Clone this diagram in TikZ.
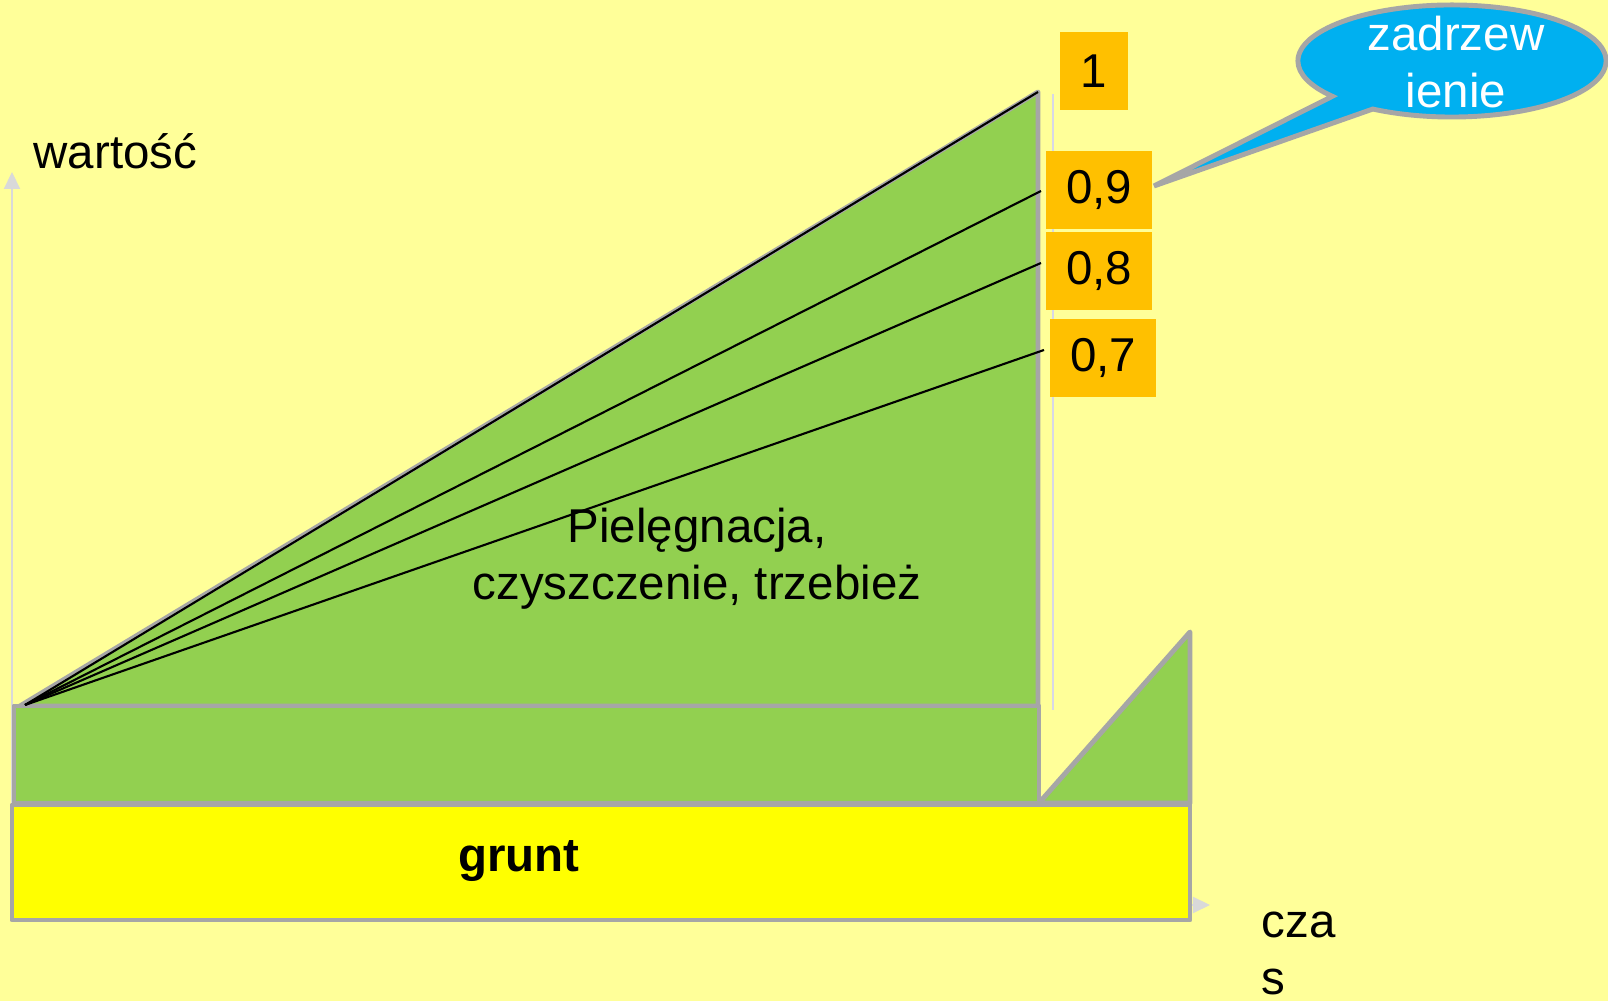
\documentclass[tikz,border=0pt]{standalone}
\usepackage{fontspec}
\setmainfont{Liberation Sans}
\usetikzlibrary{arrows.meta,positioning,shapes.callouts}
\definecolor{bgyel}{RGB}{255,255,153}
\definecolor{leaf}{RGB}{146,208,80}
\definecolor{soil}{RGB}{255,255,0}
\definecolor{tagorange}{RGB}{255,192,0}
\definecolor{sky}{RGB}{0,176,240}
\definecolor{rimgray}{RGB}{166,166,166}
\definecolor{axisgray}{RGB}{217,217,217}
\definecolor{guide}{RGB}{215,215,230}

\begin{document}
\begin{tikzpicture}[x=0.01cm,y=-0.01cm,
  every node/.style={font=\fontsize{13.5}{16.2}\selectfont,inner sep=0pt},
  part/.style={draw=rimgray,line width=1.4pt,line join=round},
  valbox/.style={fill=tagorange,minimum width=1.06cm,minimum height=0.77cm},
  axisline/.style={axisgray,line width=0.6pt,-{Triangle[length=0.17cm,width=0.16cm]}}]
 \useasboundingbox[fill=bgyel] (0,0) rectangle (1608,1001);
 % axes
 \draw[axisline] (12,905) -- (12,172);
 \draw[axisline] (12,905) -- (1210,905);
 \node[anchor=base west] (ylab) at (33,169) {wartość};
 \node[align=left,anchor=west] (xlab) at (1261,953) {cza\\s};
 % stand layers
 \draw[part,fill=leaf] (20,706) -- (1038,92) -- (1038,706) -- cycle;
 \draw[part,fill=leaf] (14,706) rectangle (1039,803);
 \draw[part,fill=leaf] (1039,803) -- (1190,632) -- (1190,803) -- cycle;
 \draw[part,fill=soil] (12,805) rectangle (1190,920);
 \draw[guide,line width=0.6pt] (1053,94) -- (1053,710);
 \node[font=\fontsize{13.5}{16.2}\selectfont\bfseries,anchor=base] (soiltxt) at (519,872) {grunt};
 \node[align=center] (care) at (697,559) {Pielęgnacja,\\czyszczenie, trzebież};
 % value lines
 \coordinate (o) at (25,705);
 \coordinate (top) at (1038,92);
 \draw[line width=0.6pt] (o) -- (top);
 \node[valbox,minimum width=0.67cm] (v10) at (1094,71) {1};
 \foreach \nm/\txt/\x/\y/\ex/\ey in {v09/{0,9}/1099/190/1041/191,
                                      v08/{0,8}/1099/271/1041/263,
                                      v07/{0,7}/1103/358/1044/350}{
   \node[valbox] (\nm) at (\x,\y) {\txt};
   \coordinate (e\nm) at (\ex,\ey);
   \draw[line width=0.6pt] (o) -- (e\nm);
 }
 % speech bubble
 \coordinate (tip) at (1154,186);
 \node[ellipse callout,draw=rimgray,line width=1.4pt,fill=sky,
       minimum width=3.08cm,minimum height=1.12cm,
       callout absolute pointer={(tip)},callout pointer arc=20] (bubble) at (1452,61) {};
 \node[white,align=center] (bubtxt) at (1456,62) {zadrzew\\ienie};
\end{tikzpicture}
\end{document}
